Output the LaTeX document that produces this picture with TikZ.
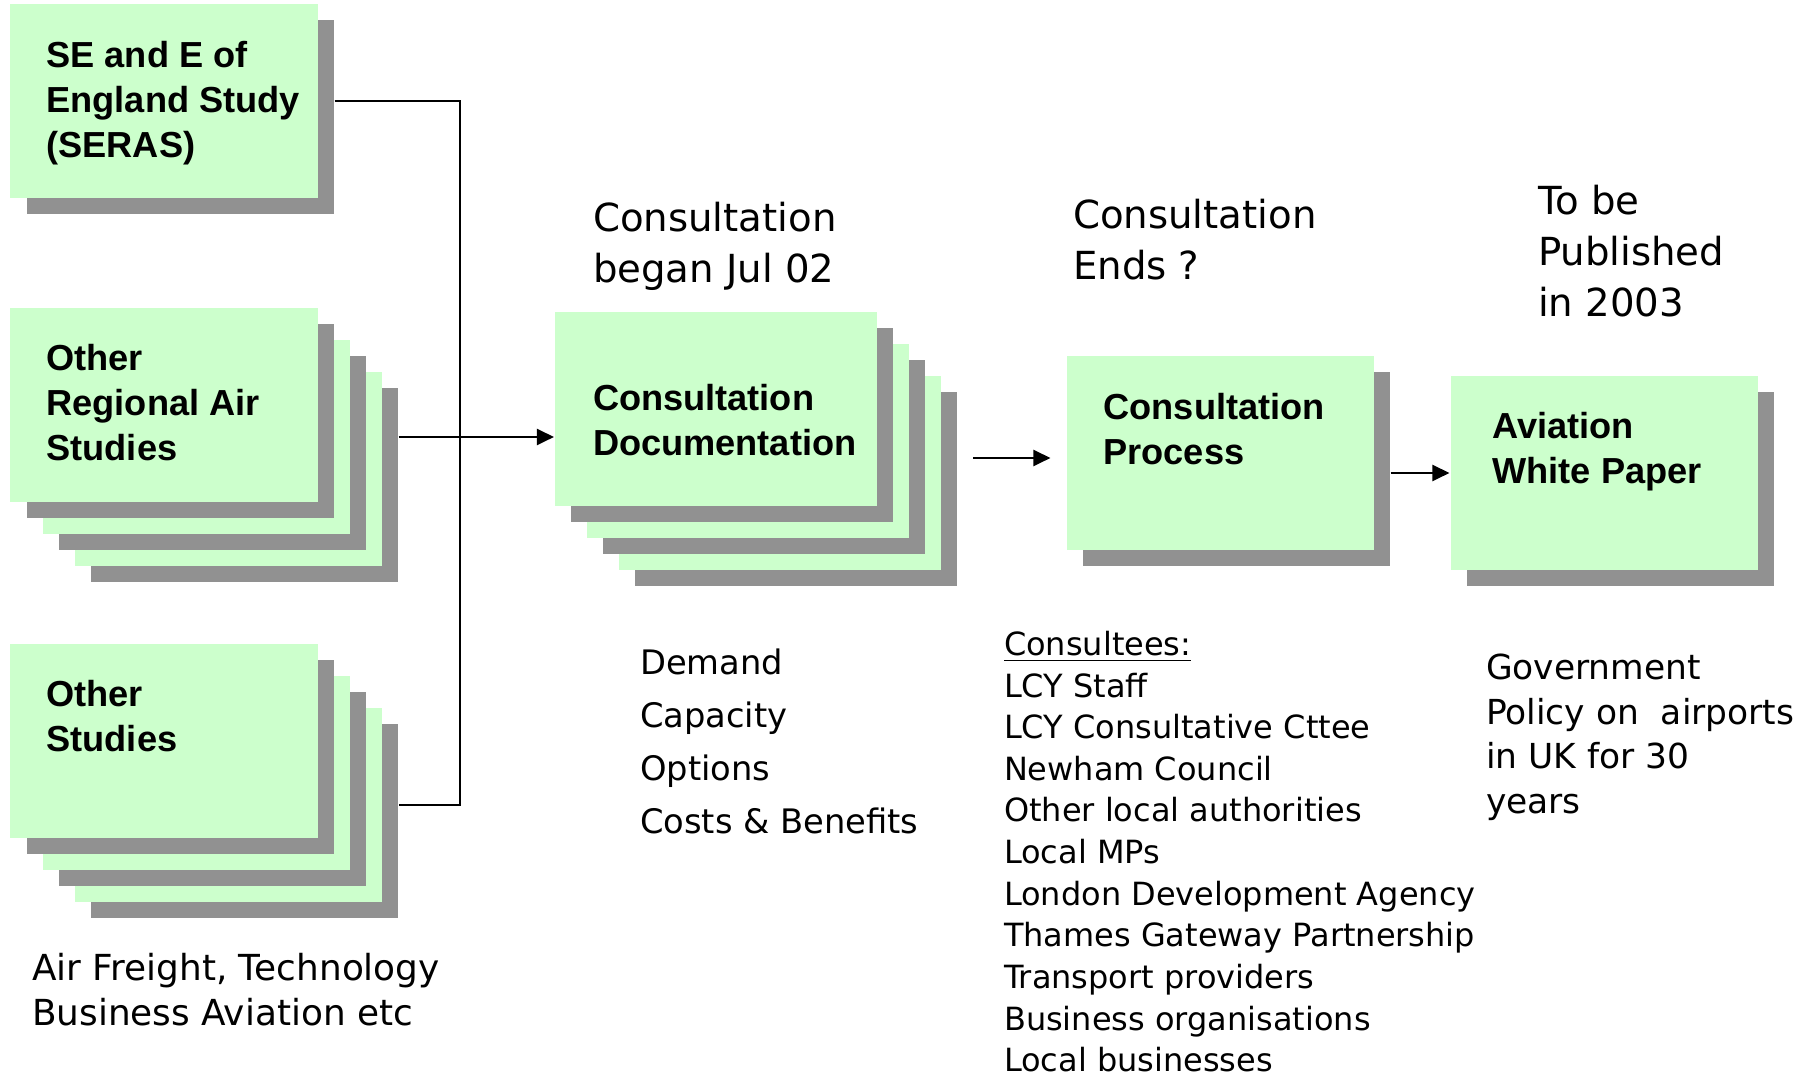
\documentclass[tikz,border=0pt]{standalone}
\usepackage{fontspec}
\setmainfont{DejaVu Sans}
\newfontfamily\sheetfont{Liberation Sans}
\usetikzlibrary{positioning,arrows.meta}

\definecolor{sheetgreen}{RGB}{204,255,204}
\definecolor{sheetgrey}{RGB}{145,145,145}

\tikzstyle{sheet}=[fill=sheetgreen,minimum width=3.07cm,minimum height=1.94cm,inner sep=0]
\tikzstyle{sheetback}=[sheet,fill=sheetgrey]
\tikzstyle{sheettext}=[inner sep=0,align=left,font=\sheetfont\bfseries\fontsize{10.3}{12.8}\selectfont]
\tikzstyle{note}=[inner sep=0,anchor=north west,align=left,font=\fontsize{11}{14.5}\selectfont]
\tikzstyle{list}=[inner sep=0,anchor=north west,align=left,font=\fontsize{9.6}{15.1}\selectfont]

\begin{document}
\begin{tikzpicture}[line width=0.6pt,>={Triangle[length=1.7mm,width=1.6mm]}]
\useasboundingbox (0,0) rectangle (18.13,10.77);

% studies on the left
\node[sheetback] (serasS) at (1.80,9.60) {};
\node[sheet] (seras) at (1.64,9.76) {};
\foreach \k in {2,1,0} {
  \node[sheetback] (regS\k) at (1.80+0.32*\k,6.56-0.32*\k) {};
  \node[sheet] (reg\k) at (1.64+0.32*\k,6.72-0.32*\k) {};
}
\foreach \k in {2,1,0} {
  \node[sheetback] (othS\k) at (1.80+0.32*\k,3.20-0.32*\k) {};
  \node[sheet] (oth\k) at (1.64+0.32*\k,3.36-0.32*\k) {};
}
\node[sheettext,below right=0.37 and 0.36 of seras.north west] (serasT) {SE and E of\\England Study\\(SERAS)};
\node[sheettext,below right=0.36 and 0.36 of reg0.north west] (regT) {Other\\Regional Air\\Studies};
\node[sheettext,below right=0.36 and 0.36 of oth0.north west] (othT) {Other\\Studies};

% consultation documents
\foreach \k in {2,1,0} {
  \node[sheetback,minimum width=3.22cm] (cdS\k) at (7.32+0.32*\k,6.52-0.32*\k) {};
  \node[sheet,minimum width=3.22cm] (cd\k) at (7.16+0.32*\k,6.68-0.32*\k) {};
}
\node[sheettext,below right=0.72 and 0.38 of cd0.north west] (cdT) {Consultation\\Documentation};

\node[sheetback] (cpS) at (12.36,6.08) {};
\node[sheet] (cp) at (12.20,6.24) {};
\node[sheettext,below right=0.37 and 0.37 of cp.north west] (cpT) {Consultation\\Process};

\node[sheetback] (avS) at (16.20,5.88) {};
\node[sheet] (av) at (16.04,6.04) {};
\node[sheettext,below right=0.36 and 0.42 of av.north west] (avT) {Aviation\\White Paper};

% links
\coordinate (jn) at (4.60,0);
\draw (seras -| serasS.east) -| (jn |- oth2) -- (oth2 -| othS2.east);
\draw[->] (reg1 -| regS2.east) -- (reg1 -| cd0.west);
\draw[->,shorten <=0.15cm,shorten >=0.15cm] ([yshift=-0.05cm]cp -| cdS2.east) -- ([yshift=-0.05cm]cp.west);
\draw[->] (av -| cpS.east) -- (av.west);

% notes
\node[note] (began) at (5.92,8.76) {Consultation\\began Jul 02};
\node[note] (ends) at (10.72,8.79) {Consultation\\Ends ?};
\node[note] (publish) at (15.37,8.93) {To be\\Published\\in 2003};
\node[list] (topics) at (6.39,4.29) {Demand\\Capacity\\Options\\Costs \& Benefits};
\node[list,font=\fontsize{9.1}{11.85}\selectfont] (consultees) at (10.03,4.47) {\underline{Consultees:}\\LCY Staff\\LCY Consultative Cttee\\Newham Council\\Other local authorities\\Local MPs\\London Development Agency\\Thames Gateway Partnership\\Transport providers\\Business organisations\\Local businesses};
\node[list,font=\fontsize{9.8}{12.7}\selectfont] (policy) at (14.85,4.24) {Government\\Policy on\ \ airports\\in UK for 30\\years};
\node[list,font=\fontsize{10.2}{12.8}\selectfont] (freight) at (0.31,1.25) {Air Freight, Technology\\Business Aviation etc};
\end{tikzpicture}
\end{document}
